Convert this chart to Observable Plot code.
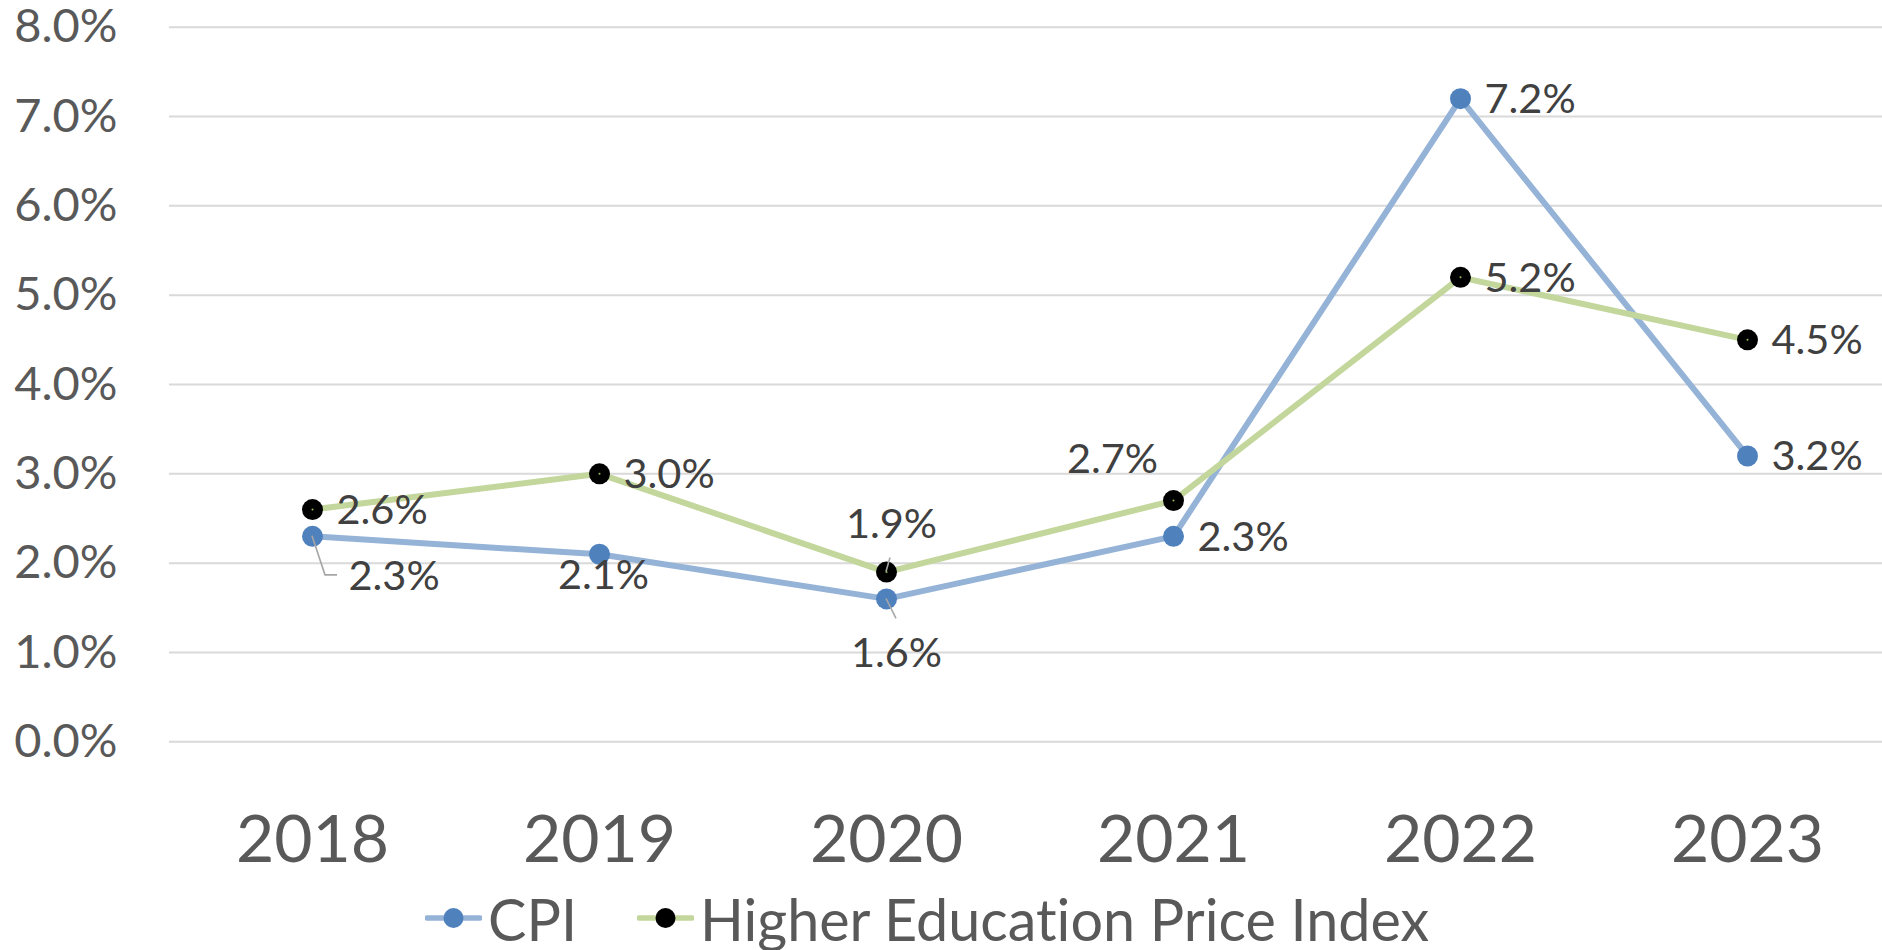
<!DOCTYPE html>
<html>
<head>
<meta charset="utf-8">
<script src="https://cdn.jsdelivr.net/npm/d3@7"></script>
<script src="https://cdn.jsdelivr.net/npm/@observablehq/plot@0.6"></script>
<style>
  html, body { margin: 0; padding: 0; background: #fff; }
  body { width: 1882px; height: 950px; overflow: hidden; font-family: Lato, "Noto Sans", sans-serif; font-variant-ligatures: none; }
  svg text { font-variant-ligatures: none; }
  #legend { position: relative; height: 66px; width: 1882px; color: #595959; font-size: 57.5px; }
  .item { position: absolute; top: 0; height: 66px; display: flex; align-items: center; white-space: nowrap; }
  .item svg { display: block; margin-right: 6px; }
</style>
</head>
<body>
<div id="chart"></div>
<div id="legend"></div>
<script>
// ---- data ----
const years = ["2018", "2019", "2020", "2021", "2022", "2023"];
const cpi = [2.3, 2.1, 1.6, 2.3, 7.2, 3.2];
const hepi = [2.6, 3.0, 1.9, 2.7, 5.2, 4.5];
const yTicks = [0, 1, 2, 3, 4, 5, 6, 7, 8];
const seriesNames = ["CPI", "Higher Education Price Index"];

// label placement names per point (layout, not data)
const cpiPlace = ["leaderLowRight", "below", "leaderBelow", "right", "right", "right"];
const hepiPlace = ["right", "right", "leaderAbove", "aboveLeft", "right", "right"];

// ---- styles ----
const cpiLine = "#95b3d7", cpiDot = "#4f81bd";
const hepiLine = "#c3d69b", hepiDot = "#000000";
const placements = {
  right:          {dx: 24, dy: 1,   textAnchor: "start"},
  below:          {dx: 4,  dy: 22,  textAnchor: "middle"},
  leaderLowRight: {dx: 36, dy: 40,  textAnchor: "start"},
  leaderBelow:    {dx: 10, dy: 55,  textAnchor: "middle"},
  leaderAbove:    {dx: 5,  dy: -47, textAnchor: "middle"},
  aboveLeft:      {dx: -61, dy: -41, textAnchor: "middle"}
};
const leaders = {
  leaderLowRight: [[0, 0], [13, 39], [25, 39]],
  leaderBelow: [[0, 0], [10, 20]],
  leaderAbove: [[0, 0], [4, -14]]
};

const rows = [];
years.forEach((yr, i) => {
  rows.push({year: yr, value: cpi[i], series: seriesNames[0], place: cpiPlace[i]});
  rows.push({year: yr, value: hepi[i], series: seriesNames[1], place: hepiPlace[i]});
});
const cpiRows = rows.filter(d => d.series === seriesNames[0]);
const hepiRows = rows.filter(d => d.series === seriesNames[1]);
const fmt = v => v.toFixed(1) + "%";

const labelMarks = Object.entries(placements).map(([name, p]) =>
  Plot.text(rows.filter(d => d.place === name), {
    x: "year", y: "value", text: d => fmt(d.value),
    dx: p.dx, dy: p.dy, textAnchor: p.textAnchor,
    fontSize: 41.5, fill: "#404040", lineAnchor: "middle"
  })
);

function leaderMark(index, scales) {
  const g = d3.create("svg:g");
  rows.filter(d => leaders[d.place]).forEach(d => {
    const px = scales.x(d.year), py = scales.y(d.value);
    const pts = leaders[d.place].map(([ox, oy]) => [px + ox, py + oy]);
    g.append("path")
      .attr("d", d3.line()(pts))
      .attr("fill", "none")
      .attr("stroke", "#a6a6a6")
      .attr("stroke-width", 1.6);
  });
  return g.node();
}

const chart = Plot.plot({
  width: 1882,
  height: 885,
  marginLeft: 169,
  marginRight: 0,
  marginTop: 26.7,
  marginBottom: 143.7,
  style: {fontFamily: "Lato, 'Noto Sans', sans-serif", color: "#595959", background: "#fff", overflow: "visible"},
  x: {type: "point", domain: years, range: [312, 1747], padding: 0, label: null},
  y: {domain: [0, 8], label: null},
  marks: [
    Plot.ruleY(yTicks, {stroke: "#d9d9d9", strokeWidth: 2}),
    Plot.axisY(yTicks, {tickSize: 0, tickPadding: 52, fontSize: 47, tickFormat: fmt, label: null}),
    Plot.axisX({tickSize: 0, tickPadding: 73, fontSize: 66, label: null}),
    Plot.line(cpiRows, {x: "year", y: "value", stroke: cpiLine, strokeWidth: 6, strokeLinejoin: "round", strokeLinecap: "round"}),
    Plot.line(hepiRows, {x: "year", y: "value", stroke: hepiLine, strokeWidth: 6, strokeLinejoin: "round", strokeLinecap: "round"}),
    Plot.dot(cpiRows, {x: "year", y: "value", r: 10.5, fill: cpiDot}),
    Plot.dot(hepiRows, {x: "year", y: "value", r: 10.5, fill: hepiDot}),
    Plot.dot(hepiRows, {x: "year", y: "value", r: 1, fill: "#9bbb59"}),
    leaderMark,
    ...labelMarks
  ]
});
document.getElementById("chart").appendChild(chart);

// ---- legend ----
const legend = d3.select("#legend");
const legendItems = [
  {name: seriesNames[0], line: cpiLine, dot: cpiDot, left: 425},
  {name: seriesNames[1], line: hepiLine, dot: hepiDot, left: 637}
];
legendItems.forEach(it => {
  const item = legend.append("div").attr("class", "item").style("left", it.left + "px");
  const s = item.append("svg").attr("width", 57).attr("height", 24);
  s.append("line").attr("x1", 2).attr("x2", 55).attr("y1", 12).attr("y2", 12)
    .attr("stroke", it.line).attr("stroke-width", 5.5).attr("stroke-linecap", "round");
  s.append("circle").attr("cx", 28.5).attr("cy", 12).attr("r", 10).attr("fill", it.dot);
  item.append("span").text(it.name);
});
</script>
</body>
</html>
